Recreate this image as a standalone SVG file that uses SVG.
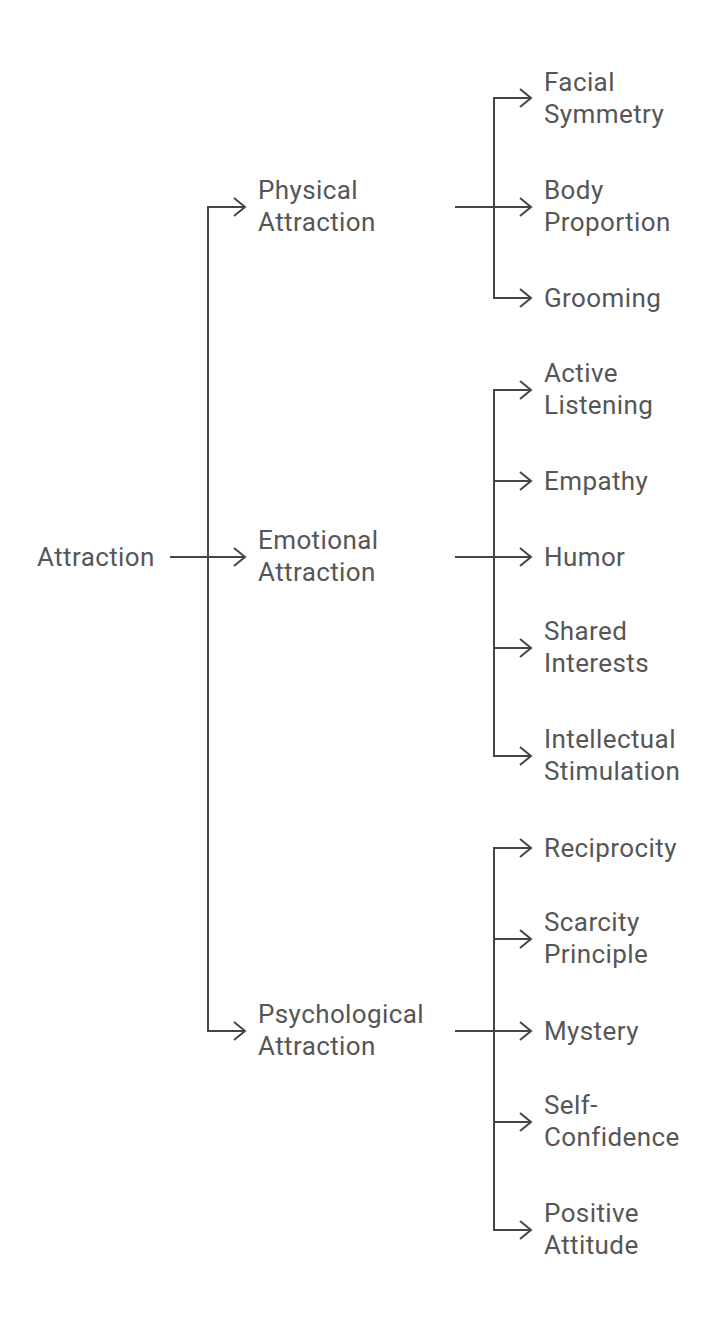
<svg xmlns="http://www.w3.org/2000/svg" width="720" height="1329" viewBox="0 0 720 1329">
<style>
text{font-family:Roboto,"Liberation Sans",sans-serif;font-size:26px;letter-spacing:0.4px;fill:#565656}
.c path{fill:none;stroke:#454545;stroke-width:2;marker-end:url(#ah)}
</style>
<defs>
<marker id="ah" markerUnits="userSpaceOnUse" markerWidth="14" markerHeight="22" refX="12" refY="10" orient="auto">
<path d="M1,1 L12,10 L1,19" fill="none" stroke="#454545" stroke-width="2"/>
</marker>
</defs>
<rect width="720" height="1329" fill="#fff"/>
<g class="c" id="connectors">
<path d="M170,557 H208 V207 H245"/>
<path d="M170,557 H245"/>
<path d="M170,557 H208 V1031 H245"/>
<path d="M455,207 H494 V98 H531"/>
<path d="M455,207 H531"/>
<path d="M455,207 H494 V298 H531"/>
<path d="M455,557 H494 V390 H531"/>
<path d="M455,557 H494 V481 H531"/>
<path d="M455,557 H531"/>
<path d="M455,557 H494 V648 H531"/>
<path d="M455,557 H494 V756 H531"/>
<path d="M455,1031 H494 V848 H531"/>
<path d="M455,1031 H494 V939 H531"/>
<path d="M455,1031 H531"/>
<path d="M455,1031 H494 V1122 H531"/>
<path d="M455,1031 H494 V1230 H531"/>
</g>
<g id="attraction"><text x="37" y="566">Attraction</text></g>
<g id="physical"><text x="258" y="199">Physical</text><text x="258" y="231">Attraction</text></g>
<g id="emotional"><text x="258" y="549">Emotional</text><text x="258" y="581">Attraction</text></g>
<g id="psychological"><text x="258" y="1023">Psychological</text><text x="258" y="1055">Attraction</text></g>
<g id="facial"><text x="544" y="91">Facial</text><text x="544" y="123">Symmetry</text></g>
<g id="body"><text x="544" y="199">Body</text><text x="544" y="231">Proportion</text></g>
<g id="grooming"><text x="544" y="307">Grooming</text></g>
<g id="active"><text x="544" y="382">Active</text><text x="544" y="414">Listening</text></g>
<g id="empathy"><text x="544" y="490">Empathy</text></g>
<g id="humor"><text x="544" y="566">Humor</text></g>
<g id="shared"><text x="544" y="640">Shared</text><text x="544" y="672">Interests</text></g>
<g id="intellectual"><text x="544" y="748">Intellectual</text><text x="544" y="780">Stimulation</text></g>
<g id="reciprocity"><text x="544" y="857">Reciprocity</text></g>
<g id="scarcity"><text x="544" y="931">Scarcity</text><text x="544" y="963">Principle</text></g>
<g id="mystery"><text x="544" y="1040">Mystery</text></g>
<g id="selfconf"><text x="544" y="1114">Self-</text><text x="544" y="1146">Confidence</text></g>
<g id="positive"><text x="544" y="1222">Positive</text><text x="544" y="1254">Attitude</text></g>
</svg>
